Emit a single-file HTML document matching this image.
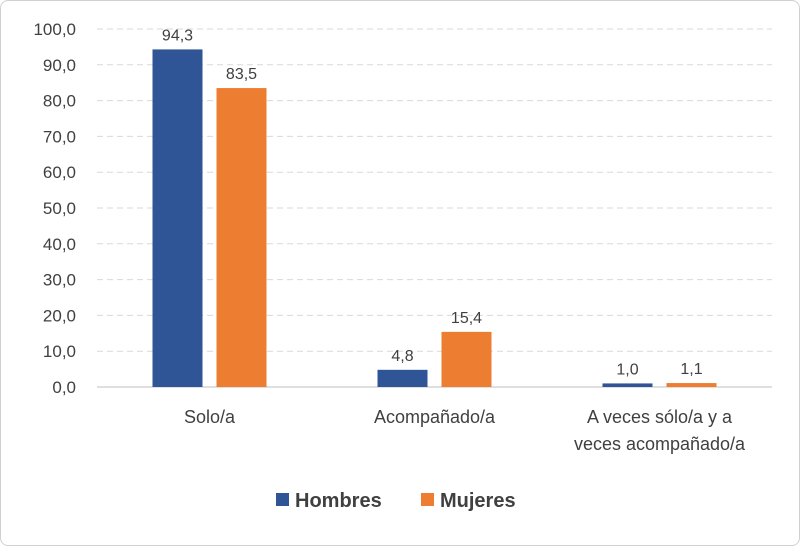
<!DOCTYPE html>
<html><head><meta charset="utf-8"><style>
body{margin:0;background:#fff;}
#wrap{position:relative;width:798px;height:544px;border:1px solid #d0d0d0;border-radius:8px;overflow:hidden;background:#fff;}
svg text{font-family:"Liberation Sans",sans-serif;fill:#404040;}
</style></head><body>
<div id="wrap">
<svg id="chart" width="798" height="544"></svg>
</div>
<script>
const categories=[["Solo/a"],["Acompañado/a"],["A veces sólo/a y a","veces acompañado/a"]];
const hombres=[94.3,4.8,1.0];
const mujeres=[83.5,15.4,1.1];
const ticks=[0,10,20,30,40,50,60,70,80,90,100];
const seriesNames=["Hombres","Mujeres"];
const colors=["#2f5597","#ed7d31"];
const svg=document.getElementById('chart');
const NS='http://www.w3.org/2000/svg';
const x0=96,x1=771,yBase=386,yTop=28;
const y=v=>yBase-(v/100)*(yBase-yTop);
const bw=(x1-x0)/categories.length;
function el(t,a,p){const e=document.createElementNS(NS,t);for(const k in a)e.setAttribute(k,a[k]);(p||svg).appendChild(e);return e;}
ticks.forEach(t=>{
 const g=el('line',{x1:x0,x2:x1,y1:y(t),y2:y(t),stroke:t===0?'#bfbfbf':'#d9d9d9','stroke-width':1,'stroke-dasharray':t===0?'':'6,4'});
 
 
 const tx=el('text',{x:75,y:y(t)+6,'text-anchor':'end','font-size':17});
 tx.textContent=t.toFixed(1).replace('.',',');
 
 
});
const barW=50,gap=14;
categories.forEach((c,i)=>{
 const cx=x0+bw*(i+0.5);
 [hombres,mujeres].forEach((s,j)=>{
  const bx=j===0?cx-gap/2-barW:cx+gap/2;
  const r=el('rect',{x:bx,y:y(s[i]),width:barW,height:yBase-y(s[i]),fill:colors[j]});
  
  
  const l=el('text',{x:bx+barW/2,y:y(s[i])-9,'text-anchor':'middle','font-size':16});
  l.textContent=s[i].toFixed(1).replace('.',',');
  
  
 });
 c.forEach((line,k)=>{
  const t=el('text',{x:cx,y:422+k*27,'text-anchor':'middle','font-size':18});
  t.textContent=line;
  
  
 });
});
const legX=[275,420];
seriesNames.forEach((n,j)=>{
 const r=el('rect',{x:legX[j],y:492,width:13,height:13,fill:colors[j]});
 
 
 const t=el('text',{x:legX[j]+19,y:506,'font-size':20,'font-weight':'bold'});
 t.textContent=n;
 
 
});
</script>
</body></html>
